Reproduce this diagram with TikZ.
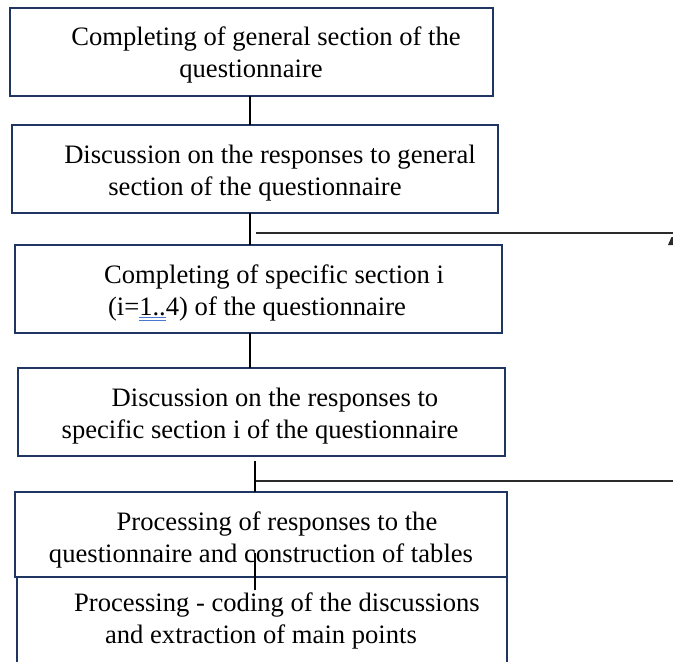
\documentclass[tikz,border=0pt]{standalone}
\usepackage{fontspec}
\setmainfont{Liberation Serif}
\usetikzlibrary{fit}
\definecolor{boxnavy}{HTML}{1F3562}
\definecolor{ulblue}{HTML}{4A78D0}
\definecolor{linegray}{HTML}{2A2A2A}
\newsavebox\myulbox
\newcommand\dblul[1]{\begingroup\sbox\myulbox{#1}\rlap{\textcolor{ulblue}{\rule[-3pt]{\wd\myulbox}{0.8pt}}}\rlap{\textcolor{ulblue}{\rule[-5.5pt]{\wd\myulbox}{0.8pt}}}\usebox\myulbox\endgroup}
\begin{document}
\begin{tikzpicture}[x=1pt,y=-1pt,
  box/.style={draw=boxnavy, line width=2.6pt, inner sep=0pt, outer sep=0pt, rectangle},
  txt/.style={align=center, inner sep=0pt, font=\fontsize{26.6}{32}\selectfont},
  conn/.style={draw=black, line width=1.1pt},
  hline/.style={draw=linegray, line width=1.6pt}]
\useasboundingbox (0,0) rectangle (673,662);
% boxes
\node[box, fit={(10,8) (493,96)}] (b1) {};
\node[box, fit={(12,125) (498,213)}] (b2) {};
\node[box, fit={(15,245) (502,333)}] (b3) {};
\node[box, fit={(18,368) (505,456)}] (b4) {};
\node[box, fit={(17,577) (507,672)}] (b6) {};
\node[box, fit={(15,492) (507,577)}] (b5) {};
% texts
\node[txt] (t1) at (251,55) {\hspace*{30pt}Completing of general section of the\\questionnaire};
\node[txt] (t2) at (255,173.5) {\hspace*{30pt}Discussion on the responses to general\\section of the questionnaire};
\node[txt] (t3) at (257,292.5) {\hspace*{34pt}Completing of specific section i\\(i=\dblul{1..}4) of the questionnaire};
\node[txt] (t4) at (260,416.5) {\hspace*{30pt}Discussion on the responses to\\specific section i of the questionnaire};
\node[txt] (t5) at (261,539.5) {\hspace*{32pt}Processing of responses to the\\questionnaire and construction of tables};
\node[txt] (t6) at (261,621) {\hspace*{32pt}Processing - coding of the discussions\\and extraction of main points};
% connector coordinates
\coordinate (xa) at (250,0);
\coordinate (h1s) at (256,233);
\coordinate (h1e) at (673,233);
\coordinate (h2s) at (256,481);
\coordinate (h2e) at (673,481);
\coordinate (c4s) at (255,461);
\coordinate (c4e) at (255,492);
\coordinate (c5s) at (255,553);
\coordinate (c5e) at (255,590);
% connectors
\draw[conn] (b1.south -| xa) -- (b2.north -| xa);
\draw[conn] (b2.south -| xa) -- (b3.north -| xa);
\draw[conn] (b3.south -| xa) -- (b4.north -| xa);
\draw[conn] (c4s) -- (c4e);
\draw[conn] (c5s) -- (c5e);
\draw[hline] (h1s) -- (h1e);
\draw[hline] (h2s) -- (h2e);
% cut-off arrow tip fragment
\fill[linegray] (668,245) -- (671.5,237) -- (673,237) -- (673,245) -- cycle;
\end{tikzpicture}
\end{document}
